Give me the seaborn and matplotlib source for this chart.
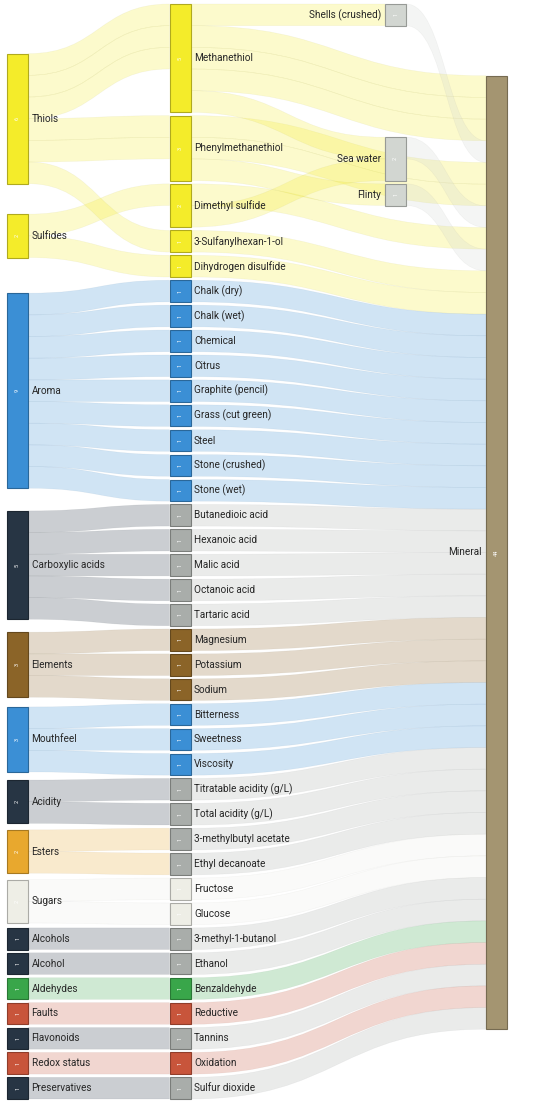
#!/usr/bin/env python3
"""Sankey of the compounds and descriptors behind 'Mineral' in wine."""

from collections import Counter

import matplotlib.colors as mcolors
import matplotlib.pyplot as plt
import seaborn as sns
from matplotlib.patches import PathPatch, Rectangle
from matplotlib.path import Path

# ---- data ---------------------------------------------------------------
categories = [
    "Thiols", "Sulfides", "Aroma", "Carboxylic acids", "Elements", "Mouthfeel",
    "Acidity", "Esters", "Sugars", "Alcohols", "Alcohol", "Aldehydes", "Faults",
    "Flavonoids", "Redox status", "Preservatives",
]
category_colors = [
    "yellow", "yellow", "blue", "navy", "brown", "blue", "navy", "orange",
    "cream", "navy", "navy", "green", "red", "navy", "red", "navy",
]

compounds = [
    "Methanethiol", "Phenylmethanethiol", "Dimethyl sulfide", "3-Sulfanylhexan-1-ol",
    "Dihydrogen disulfide", "Chalk (dry)", "Chalk (wet)", "Chemical", "Citrus",
    "Graphite (pencil)", "Grass (cut green)", "Steel", "Stone (crushed)", "Stone (wet)",
    "Butanedioic acid", "Hexanoic acid", "Malic acid", "Octanoic acid", "Tartaric acid",
    "Magnesium", "Potassium", "Sodium", "Bitterness", "Sweetness", "Viscosity",
    "Titratable acidity (g/L)", "Total acidity (g/L)", "3-methylbutyl acetate",
    "Ethyl decanoate", "Fructose", "Glucose", "3-methyl-1-butanol", "Ethanol",
    "Benzaldehyde", "Reductive", "Tannins", "Oxidation", "Sulfur dioxide",
]
compound_parent = (
    ["Thiols", "Thiols", "Sulfides", "Thiols", "Sulfides"]
    + ["Aroma"] * 9 + ["Carboxylic acids"] * 5 + ["Elements"] * 3
    + ["Mouthfeel"] * 3 + ["Acidity"] * 2 + ["Esters"] * 2 + ["Sugars"] * 2
    + ["Alcohols", "Alcohol", "Aldehydes", "Faults", "Flavonoids",
       "Redox status", "Preservatives"]
)
parent_rows = [3, 2, 1, 1, 1] + [1] * 33
mineral_rows = [3, 2, 1, 1, 1] + [1] * 33
compound_colors = (
    ["yellow"] * 5 + ["blue"] * 9 + ["grey"] * 5 + ["brown"] * 3 + ["blue"] * 3
    + ["grey"] * 4 + ["cream"] * 2
    + ["grey", "grey", "green", "red", "grey", "red", "grey"]
)

descriptors = ["Shells (crushed)", "Sea water", "Flinty"]
descriptor_sources = [["Methanethiol"], ["Methanethiol", "Dimethyl sulfide"],
                      ["Phenylmethanethiol"]]
descriptor_mineral_rows = [1, 1, 1]

sink = "Mineral"

palette = {
    "yellow": "#f4ec2a", "blue": "#3b8fd5", "navy": "#273544", "grey": "#a9adaa",
    "pale": "#d2d6d1", "brown": "#8b6428", "orange": "#e8a82e", "cream": "#eeeee6",
    "green": "#39a64a", "red": "#c8553b", "khaki": "#a49571",
}

# ---- layout constants ---------------------------------------------------
TOP, HEIGHT, GAP = 4.0, 1095.0, 3.24
COL_X = [7, 169.5, 385, 486]
NODE_W = 21
LINK_ALPHA = 0.24

# ---- build graph --------------------------------------------------------
nodes = categories + compounds + descriptors + [sink]
color = dict(zip(categories, [palette[c] for c in category_colors]))
color.update(zip(compounds, [palette[c] for c in compound_colors]))
color.update({d: palette["pale"] for d in descriptors})
color[sink] = palette["khaki"]

links = []
for comp, parent, n in zip(compounds, compound_parent, parent_rows):
    links += [(parent, comp)] * n
for comp, n in zip(compounds, mineral_rows):
    links += [(comp, sink)] * n
for desc, srcs in zip(descriptors, descriptor_sources):
    links += [(s, desc) for s in srcs]
for desc, n in zip(descriptors, descriptor_mineral_rows):
    links += [(desc, sink)] * n

out_v = Counter(s for s, _ in links)
in_v = Counter(t for _, t in links)
value = {n: max(out_v[n], in_v[n]) for n in nodes}

col = {n: 0 for n in nodes}
for _ in range(len(nodes)):
    for s, t in links:
        col[t] = max(col[t], col[s] + 1)
last = max(col.values())
for n in nodes:
    if out_v[n] == 0:
        col[n] = last
columns = [[n for n in nodes if col[n] == c] for c in range(last + 1)]

ky = min((HEIGHT - (len(c) - 1) * GAP) / sum(value[n] for n in c) for c in columns)
h = {n: value[n] * ky for n in nodes}
y0 = {}
for c in columns:
    y = TOP
    for n in c:
        y0[n] = y
        y += h[n] + GAP


def centre(n):
    return y0[n] + h[n] / 2


def resolve(column):
    order = sorted(column, key=lambda n: y0[n])
    y = TOP
    for n in order:
        y0[n] = max(y0[n], y)
        y = y0[n] + h[n] + GAP
    if y - GAP > TOP + HEIGHT:
        lim = TOP + HEIGHT
        for n in reversed(order):
            y0[n] = min(y0[n], lim - h[n])
            lim = y0[n] - GAP


def link_offsets():
    sy, ty = {}, {}
    for n in nodes:
        outs = sorted([i for i, (s, _) in enumerate(links) if s == n],
                      key=lambda i: (round(y0[links[i][1]], 3), col[links[i][1]]))
        y = y0[n]
        for i in outs:
            sy[i] = y
            y += ky
        ins = sorted([i for i, (_, t) in enumerate(links) if t == n],
                     key=lambda i: (round(y0[links[i][0]], 3), col[links[i][0]]))
        y = y0[n]
        for i in ins:
            ty[i] = y
            y += ky
    return sy, ty


def mean(vals):
    vals = list(vals)
    return sum(vals) / len(vals)


# sources: centre on their targets
for n in columns[0]:
    y0[n] = mean(centre(t) for s, t in links if s == n) - h[n] / 2
resolve(columns[0])
# descriptors: first guess from their sources
for n in columns[2]:
    y0[n] = mean(centre(s) for s, t in links if t == n) - h[n] / 2
resolve(columns[2])


def place_sink():
    for n in columns[last]:
        y0[n] = mean(centre(s) for s, t in links if t == n) - h[n] / 2
    resolve(columns[last])


place_sink()
# descriptors: keep the incoming bands level
sy, ty = link_offsets()
for n in columns[2]:
    y0[n] = mean(sy[i] - (ty[i] - y0[n]) for i, (s, t) in enumerate(links) if t == n)
resolve(columns[2])
place_sink()
sy, ty = link_offsets()

# ---- draw -----------------------------------------------------------------
sns.set_theme(style="white")
plt.rcParams["font.family"] = ["Roboto", "DejaVu Sans"]

fig = plt.figure(figsize=(5.45, 11.12), dpi=100)
ax = fig.add_axes([0, 0, 1, 1])
ax.set_xlim(0, 545)
ax.set_ylim(1112, 0)
ax.axis("off")

for i, (s, t) in enumerate(links):
    x0 = COL_X[col[s]] + NODE_W
    x1 = COL_X[col[t]]
    xm = (x0 + x1) / 2
    a, b = sy[i], ty[i]
    verts = [(x0, a), (xm, a), (xm, b), (x1, b), (x1, b + ky),
             (xm, b + ky), (xm, a + ky), (x0, a + ky), (x0, a)]
    codes = [Path.MOVETO, Path.CURVE4, Path.CURVE4, Path.CURVE4, Path.LINETO,
             Path.CURVE4, Path.CURVE4, Path.CURVE4, Path.CLOSEPOLY]
    rgb = mcolors.to_rgb(color[s])
    ax.add_patch(PathPatch(Path(verts, codes), facecolor=(*rgb, LINK_ALPHA),
                           edgecolor=(*[c * 0.6 for c in rgb], 0.08),
                           linewidth=0.4, zorder=1))

for n in nodes:
    x = COL_X[col[n]]
    rgb = mcolors.to_rgb(color[n])
    ax.add_patch(Rectangle((x, y0[n]), NODE_W, h[n], facecolor=rgb,
                           edgecolor=[c * 0.72 for c in rgb], linewidth=0.8, zorder=2))
    ax.text(x + NODE_W / 2, centre(n), str(value[n]), rotation=90, color="white",
            fontsize=4, ha="center", va="center", zorder=3)
    if x < 545 / 2:
        ax.text(x + NODE_W + 3.5, centre(n), n, ha="left", va="center",
                fontsize=7.2, color="#262626", zorder=3)
    else:
        ax.text(x - 4, centre(n), n, ha="right", va="center",
                fontsize=7.2, color="#262626", zorder=3)

fig.savefig("out.png", dpi=100)
